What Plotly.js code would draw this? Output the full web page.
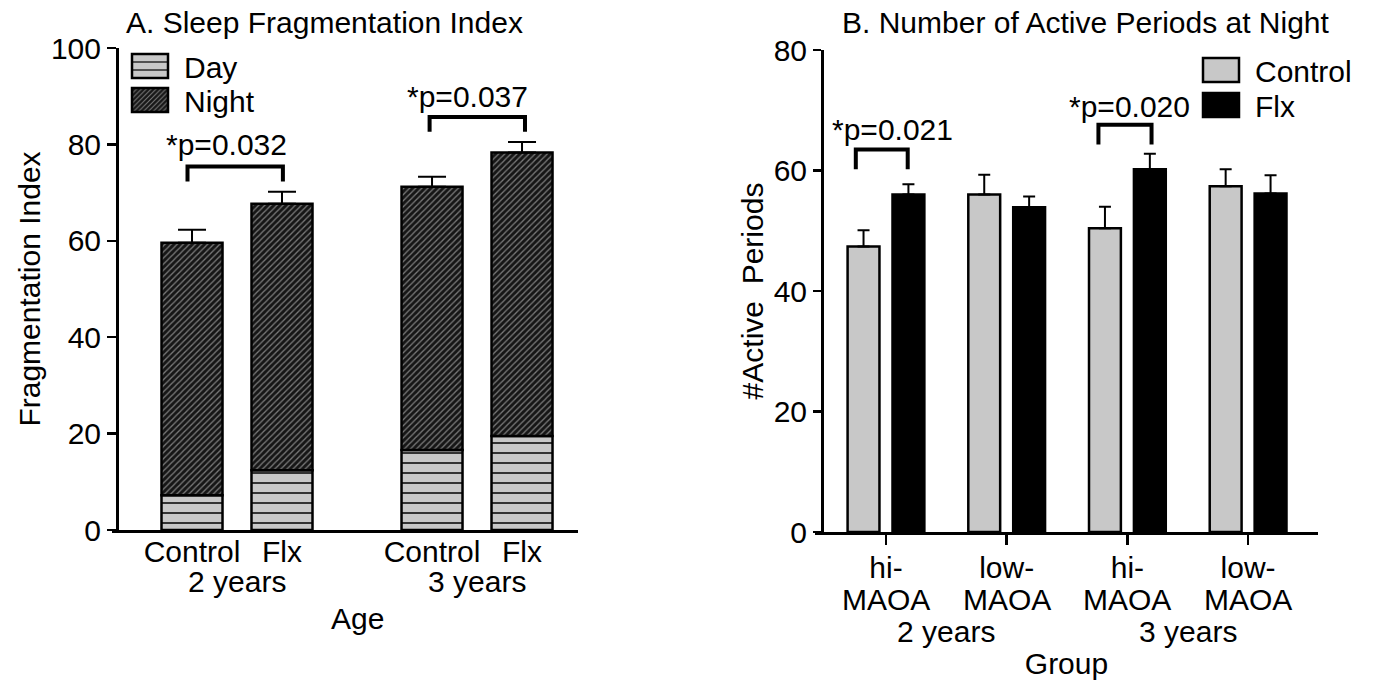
<!DOCTYPE html>
<html>
<head>
<meta charset="utf-8">
<script src="https://cdn.plot.ly/plotly-3.0.1.min.js"></script>
<style>html,body{margin:0;padding:0;background:#fff;}</style>
</head>
<body>
<div id="chart" style="width:1373px;height:681px;"></div>
<script>
// ---------- Panel A data ----------
const ageGroupsA = ['2 years', '3 years'];
const treatmentsA = ['Control', 'Flx'];
const dayValues = [7.2, 12.4, 16.6, 19.5];      // Control 2y, Flx 2y, Control 3y, Flx 3y
const nightValues = [52.4, 55.3, 54.6, 58.8];
const totalErr = [2.7, 2.5, 2.1, 2.2];
const pTextA = ['*p=0.032', '*p=0.037'];

// ---------- Panel B data ----------
const genotypeTop = ['hi-', 'low-', 'hi-', 'low-'];
const genotypeBottom = ['MAOA', 'MAOA', 'MAOA', 'MAOA'];
const ageGroupsB = ['2 years', '3 years'];
const controlB = [47.4, 56.0, 50.4, 57.4];
const controlBErr = [2.7, 3.3, 3.6, 2.8];
const flxB = [56.0, 53.9, 60.2, 56.2];
const flxBErr = [1.7, 1.8, 2.6, 3.0];
const pTextB = ['*p=0.021', '*p=0.020'];

// ---------- layout helpers ----------
const W = 1373, H = 681;
const px = v => v / W;
const py = v => 1 - v / H;
const FONT = 'Liberation Sans, Arial, sans-serif';
const groupStepA = 2.667;
const xA = [];
ageGroupsA.forEach((g, gi) => treatmentsA.forEach((t, ti) => xA.push(gi * groupStepA + ti)));
const tickTextA = [];
ageGroupsA.forEach(() => treatmentsA.forEach(t => tickTextA.push(t)));
const xB = genotypeTop.map((_, i) => i);
const barWA = 0.678;
const barWB = 0.264;
const offB = 0.186;

const dayPattern = {shape: '-', bgcolor: '#c8c8c8', fgcolor: '#222', size: 10, solidity: 0.18, fillmode: 'replace'};
const nightPattern = {shape: '/', bgcolor: '#161616', fgcolor: '#7a7a7a', size: 4.3, solidity: 0.3, fillmode: 'replace'};
const outline = {color: '#000', width: 2.5};

const traces = [
  {type: 'bar', name: 'Day', x: xA, y: dayValues, width: barWA, xaxis: 'x', yaxis: 'y',
   marker: {color: '#c8c8c8', pattern: dayPattern, line: outline}, legend: 'legend', hoverinfo: 'y'},
  {type: 'bar', name: 'Night', x: xA, y: nightValues, base: dayValues, width: barWA, xaxis: 'x', yaxis: 'y',
   marker: {color: '#161616', pattern: nightPattern, line: outline}, legend: 'legend2',
   error_y: {type: 'data', symmetric: false, array: totalErr, arrayminus: totalErr.map(() => 0),
             color: '#000', thickness: 2, width: 14}},
  {type: 'bar', name: 'Control', x: xB, y: controlB, width: barWB, offset: -offB - barWB / 2, xaxis: 'x2', yaxis: 'y2',
   marker: {color: '#c8c8c8', line: outline}, legend: 'legend3',
   error_y: {type: 'data', symmetric: false, array: controlBErr, arrayminus: controlBErr.map(() => 0),
             color: '#000', thickness: 2, width: 6}},
  {type: 'bar', name: 'Flx', x: xB, y: flxB, width: barWB, offset: offB - barWB / 2, xaxis: 'x2', yaxis: 'y2',
   marker: {color: '#000', line: outline}, legend: 'legend4',
   error_y: {type: 'data', symmetric: false, array: flxBErr, arrayminus: flxBErr.map(() => 0),
             color: '#000', thickness: 2, width: 6}}
];

const axisCommon = {showline: true, linecolor: '#000', linewidth: 2.5, showgrid: false, zeroline: false,
  tickcolor: '#000', tickwidth: 2.5, tickfont: {family: FONT, size: 30, color: '#000'}, fixedrange: true};

// significance brackets: [x0, x1, yBottom, yTop, textX, textY]
const bracketsA = [[-0.05, 1.01, 72.3, 75.4, 0.38, 80.0], [2.64, 3.70, 82.6, 85.7, 3.06, 89.9]];
const bracketsB = [[-0.25, 0.18, 60.2, 63.5, 0.05, 66.8], [1.76, 2.20, 64.3, 67.6, 2.02, 70.7]];

const shapes = [];
const annotations = [];
function addBrackets(list, texts, xr, yr) {
  list.forEach((b, i) => {
    shapes.push({type: 'path', xref: xr, yref: yr,
      path: `M${b[0]},${b[2]} L${b[0]},${b[3]} L${b[1]},${b[3]} L${b[1]},${b[2]}`,
      line: {color: '#000', width: 4}});
    annotations.push({xref: xr, yref: yr, x: b[4], y: b[5], text: texts[i], showarrow: false,
      xanchor: 'center', yanchor: 'middle', font: {family: FONT, size: 30, color: '#000'}});
  });
}
addBrackets(bracketsA, pTextA, 'x', 'y');
addBrackets(bracketsB, pTextB, 'x2', 'y2');

function txt(x, xref, yPix, text, extra) {
  annotations.push(Object.assign({xref: xref, yref: 'paper', x: x, y: py(yPix), text: text, showarrow: false,
    xanchor: 'center', yanchor: 'middle', font: {family: FONT, size: 30, color: '#000'}}, extra || {}));
}
// panel titles
txt(px(324), 'paper', 22, 'A. Sleep Fragmentation Index');
txt(px(1086), 'paper', 22, 'B. Number of Active Periods at Night');
// panel A second-line labels
ageGroupsA.forEach((g, gi) => txt(gi * groupStepA + 0.5, 'x', 581, g));
txt((xA[0] + xA[xA.length - 1]) / 2, 'x', 618, 'Age');
// panel B second / third-line labels
genotypeBottom.forEach((g, i) => txt(i, 'x2', 599, g));
ageGroupsB.forEach((g, gi) => txt(gi * 2 + 0.5, 'x2', 631, g));

function legendAt(xPix, yPix) {
  return {x: px(xPix), y: py(yPix), xanchor: 'left', yanchor: 'middle', bgcolor: 'rgba(0,0,0,0)',
    borderwidth: 0, itemwidth: 58, font: {family: FONT, size: 30, color: '#000'}};
}

const layout = {
  width: W, height: H, margin: {l: 0, r: 0, t: 0, b: 0},
  paper_bgcolor: '#fff', plot_bgcolor: 'rgba(0,0,0,0)',
  barmode: 'overlay', showlegend: true,
  font: {family: FONT, size: 30, color: '#000'},
  xaxis: Object.assign({}, axisCommon, {domain: [px(112), px(578)], range: [-0.889, 4.289], anchor: 'y',
    ticks: '', tickvals: xA, ticktext: tickTextA, ticklabelstandoff: -7}),
  yaxis: Object.assign({}, axisCommon, {domain: [py(530), py(48)], range: [0, 100], anchor: 'free',
    position: px(117), ticks: 'outside', ticklen: 9, dtick: 20,
    title: {text: 'Fragmentation Index', standoff: 0, font: {family: FONT, size: 30, color: '#000'}}}),
  xaxis2: Object.assign({}, axisCommon, {domain: [px(815), px(1318)], range: [-0.588, 3.579], anchor: 'y2',
    ticks: 'outside', ticklen: 10, tickvals: xB, ticktext: genotypeTop, ticklabelstandoff: -3,
    title: {text: 'Group', standoff: 71, font: {family: FONT, size: 30, color: '#000'}}}),
  yaxis2: Object.assign({}, axisCommon, {domain: [py(532), py(50)], range: [0, 80], anchor: 'free',
    position: px(822), ticks: 'outside', ticklen: 8, dtick: 20,
    title: {text: '#Active\u00a0 Periods', standoff: 0, font: {family: FONT, size: 30, color: '#000'}}}),
  legend: legendAt(116, 66),
  legend2: legendAt(116, 100),
  legend3: legendAt(1187, 70),
  legend4: legendAt(1187, 105),
  shapes: shapes,
  annotations: annotations
};

Plotly.newPlot('chart', traces, layout, {displayModeBar: false, staticPlot: true}).then(gd => {
  gd.querySelectorAll('.legendpoints path').forEach(p => p.setAttribute('d', 'M18,12H-18V-12H18Z'));
});
</script>
</body>
</html>
